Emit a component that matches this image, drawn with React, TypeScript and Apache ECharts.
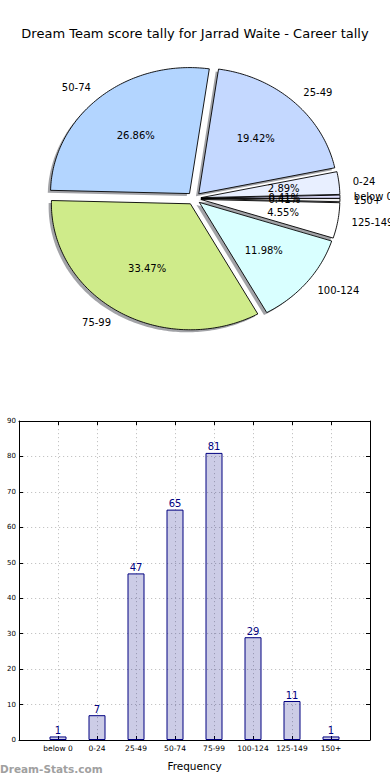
import React, { useEffect, useRef } from 'react';
import * as echarts from 'echarts';

const categories = ['below 0', '0-24', '25-49', '50-74', '75-99', '100-124', '125-149', '150+'];
const frequencies = [1, 7, 47, 65, 81, 29, 11, 1];
const pieColors = ['#e0e0ff', '#e8efff', '#c4d8ff', '#b3d5ff', '#cfeb8a', '#d9ffff', '#ffffff', '#f0f0f0'];
const yTicks = [0, 10, 20, 30, 40, 50, 60, 70, 80, 90];

const FONT = '"DejaVu Sans", sans-serif';

export default function App() {
  const ref = useRef<HTMLDivElement>(null);

  useEffect(() => {
    document.body.style.margin = '0';
    if (!ref.current) return;
    const chart = echarts.init(ref.current, undefined, { renderer: 'svg' });

    const total = frequencies.reduce((a, b) => a + b, 0);
    const cum: number[] = [];
    let acc = 0;
    frequencies.forEach((f) => {
      cum.push(acc);
      acc += f;
    });

    const CX = 194;
    const CY = 198.4;
    const RX = 139;
    const RY = 126;
    const EXPLODE = 0.05;

    const wedgeGeom = (i: number, v: number, dx: number, dy: number) => {
      const t1 = (cum[i] / total) * 360;
      const t2 = ((cum[i] + v) / total) * 360;
      const tm = (((t1 + t2) / 2) * Math.PI) / 180;
      const ox = CX + EXPLODE * RX * Math.cos(tm) + dx;
      const oy = CY - EXPLODE * RY * Math.sin(tm) + dy;
      const pts: number[][] = [[ox, oy]];
      const n = Math.max(2, Math.ceil((t2 - t1) / 1));
      for (let k = 0; k <= n; k++) {
        const a = ((t1 + ((t2 - t1) * k) / n) * Math.PI) / 180;
        pts.push([ox + RX * Math.cos(a), oy - RY * Math.sin(a)]);
      }
      return { pts, tm, ox, oy };
    };

    const gridLine = { show: true, lineStyle: { color: '#c4c4c4', type: [1.2, 2.8], width: 1 } };

    const option: any = {
      animation: false,
      backgroundColor: '#ffffff',
      title: {
        text: 'Dream Team score tally for Jarrad Waite - Career tally',
        left: 'center',
        top: 22,
        textStyle: { fontSize: 13, fontWeight: 'normal', color: '#000', fontFamily: FONT },
      },
      grid: { left: 19, right: 20, top: 421, bottom: 40, containLabel: false },
      xAxis: [
        {
          type: 'value',
          min: -1,
          max: 8,
          interval: 1,
          position: 'bottom',
          name: 'Frequency',
          nameLocation: 'middle',
          nameGap: 20,
          nameTextStyle: { fontSize: 10.5, color: '#000', fontFamily: FONT },
          axisLine: { show: true, onZero: false, lineStyle: { color: '#000', width: 1 } },
          axisTick: { show: true, inside: true, length: 4, lineStyle: { color: '#000' } },
          axisLabel: {
            fontSize: 7.5,
            color: '#000',
            fontFamily: FONT,
            margin: 4,
            showMinLabel: true,
            showMaxLabel: true,
            formatter: (v: number) => (v >= 0 && v < categories.length ? categories[v] : ''),
          },
          splitLine: gridLine,
        },
        {
          type: 'value',
          min: -1,
          max: 8,
          interval: 1,
          position: 'top',
          axisLine: { show: true, onZero: false, lineStyle: { color: '#000', width: 1 } },
          axisTick: { show: true, inside: true, length: 4, lineStyle: { color: '#000' } },
          axisLabel: { show: false },
          splitLine: { show: false },
        },
      ],
      yAxis: [
        {
          type: 'value',
          min: yTicks[0],
          max: yTicks[yTicks.length - 1],
          interval: 10,
          position: 'left',
          axisLine: { show: true, onZero: false, lineStyle: { color: '#000', width: 1 } },
          axisTick: { show: true, inside: true, length: 4, lineStyle: { color: '#000' } },
          axisLabel: { fontSize: 7, color: '#000', fontFamily: FONT, margin: 3 },
          splitLine: gridLine,
        },
        {
          type: 'value',
          min: yTicks[0],
          max: yTicks[yTicks.length - 1],
          interval: 10,
          position: 'right',
          axisLine: { show: true, onZero: false, lineStyle: { color: '#000', width: 1 } },
          axisTick: { show: true, inside: true, length: 4, lineStyle: { color: '#000' } },
          axisLabel: { show: false },
          splitLine: { show: false },
        },
      ],
      graphic: [
        {
          type: 'text',
          left: 0,
          top: 763,
          style: {
            text: 'Dream-Stats.com',
            fontSize: 10.5,
            fontWeight: 'bold',
            fill: '#a0a0a0',
            fontFamily: FONT,
          },
        },
      ],
      series: [
        {
          type: 'bar',
          xAxisIndex: 0,
          yAxisIndex: 0,
          data: frequencies.map((v, i) => [i, v]),
          barWidth: 17,
          itemStyle: { color: 'rgba(0,0,128,0.2)', borderColor: '#000080', borderWidth: 1 },
          label: {
            show: true,
            position: 'top',
            distance: 1,
            fontSize: 10,
            color: '#000080',
            fontFamily: FONT,
            formatter: (p: any) => String(p.value[1]),
          },
          z: 1,
        },
        {
          type: 'custom',
          coordinateSystem: 'none',
          data: frequencies.map((v, i) => [v, i]),
          z: 2,
          renderItem: (params: any, api: any) => {
            const i = params.dataIndex;
            const v = api.value(0) as number;
            const g = wedgeGeom(i, v, -0.02 * RX, 0.02 * RY);
            return {
              type: 'polygon',
              shape: { points: g.pts },
              style: { fill: 'rgba(70,72,80,0.5)', stroke: 'none' },
              silent: true,
            };
          },
        },
        {
          type: 'custom',
          coordinateSystem: 'none',
          data: frequencies.map((v, i) => [v, i]),
          z: 3,
          renderItem: (params: any, api: any) => {
            const i = params.dataIndex;
            const v = api.value(0) as number;
            const g = wedgeGeom(i, v, 0, 0);
            return {
              type: 'polygon',
              shape: { points: g.pts },
              style: { fill: pieColors[i], stroke: '#000', lineWidth: 0.9 },
              silent: true,
            };
          },
        },
        {
          type: 'custom',
          coordinateSystem: 'none',
          data: frequencies.map((v, i) => [v, i]),
          z: 4,
          renderItem: (params: any, api: any) => {
            const i = params.dataIndex;
            const v = api.value(0) as number;
            const g = wedgeGeom(i, v, 0, 0);
            const c = Math.cos(g.tm);
            const s = Math.sin(g.tm);
            return {
              type: 'group',
              children: [
                {
                  type: 'text',
                  x: g.ox + 0.6 * RX * c,
                  y: g.oy - 0.6 * RY * s,
                  style: {
                    text: ((v / total) * 100).toFixed(2) + '%',
                    fontSize: 10,
                    fill: '#000',
                    fontFamily: FONT,
                    align: 'center',
                    verticalAlign: 'middle',
                  },
                },
                {
                  type: 'text',
                  x: g.ox + 1.1 * RX * c,
                  y: g.oy - 1.1 * RY * s,
                  style: {
                    text: categories[i],
                    fontSize: 10,
                    fill: '#000',
                    fontFamily: FONT,
                    align: c > 0 ? 'left' : 'right',
                    verticalAlign: 'middle',
                  },
                },
              ],
            };
          },
        },
      ],
    };

    chart.setOption(option);
    return () => chart.dispose();
  }, []);

  return <div ref={ref} style={{ width: 390, height: 780 }} />;
}
